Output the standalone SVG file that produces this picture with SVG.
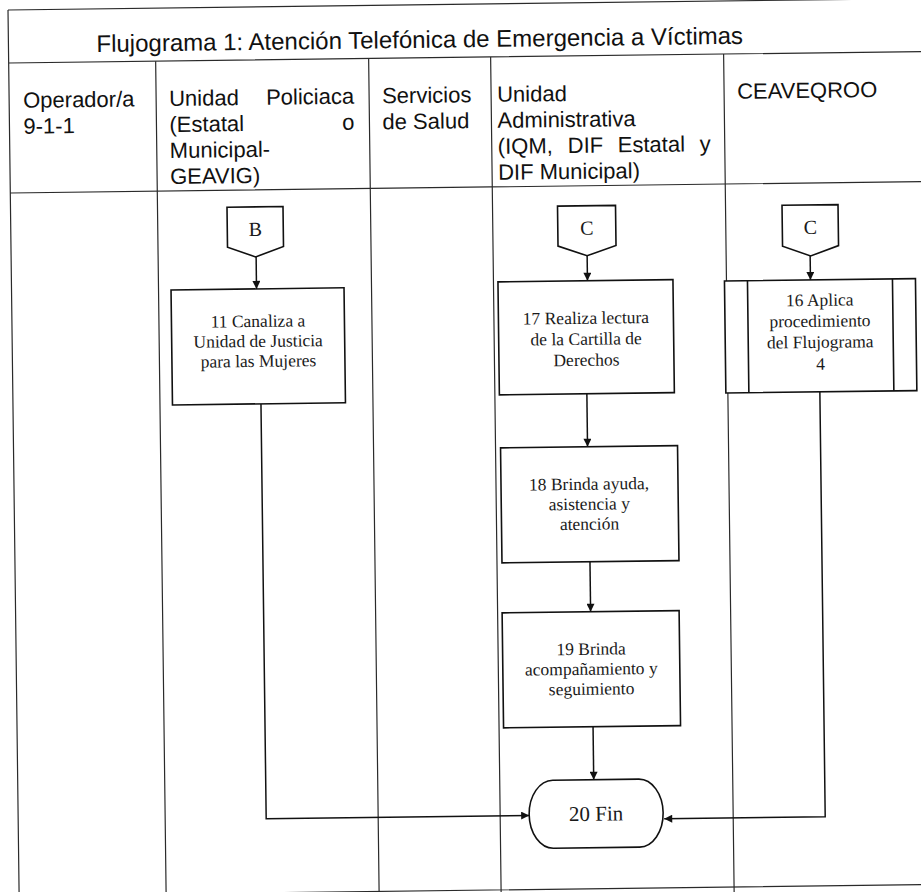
<svg xmlns="http://www.w3.org/2000/svg" width="921" height="892" viewBox="0 0 921 892">
  <style>
    .grid { fill: none; stroke: #2a2a2a; stroke-width: 1.2; }
    .box { fill: #fff; stroke: #111; stroke-width: 1.6; }
    .conn { fill: none; stroke: #111; stroke-width: 1.5; }
    .head { font-family: "Liberation Sans", Arial, sans-serif; font-size: 22px; fill: #111; }
    .title { font-family: "Liberation Sans", Arial, sans-serif; font-size: 24px; fill: #111; }
    .step { font-family: "Liberation Serif", "Times New Roman", serif; font-size: 17.5px; fill: #1a1a1a; text-anchor: middle; }
    .letter { font-family: "Liberation Serif", "Times New Roman", serif; font-size: 20px; fill: #1a1a1a; text-anchor: middle; }
  </style>
  <defs>
    <marker id="arrow" viewBox="0 0 10 10" refX="10" refY="5" markerWidth="9" markerHeight="8" markerUnits="userSpaceOnUse" orient="auto">
      <path d="M0,0 L10,5 L0,10 Z" fill="#111"/>
    </marker>
  </defs>
  <rect width="921" height="892" fill="#fff"/>
  <g transform="rotate(-0.72 8 10)">
    <!-- table frame and swimlane dividers -->
    <g id="table">
      <path class="grid" d="M8 10 H940 M8 10 V905 M8 63 H940 M8 193 H940 M8 896 H940"/>
      <path class="grid" d="M155 63 V905 M368 63 V905 M490 63 V905 M723 63 V905"/>
      <text class="title" x="96" y="53">Flujograma 1: Atención Telefónica de Emergencia a Víctimas</text>
    </g>
    <!-- lane headers -->
    <g id="lane-operador">
      <text class="head" x="22" y="108">Operador/a</text>
      <text class="head" x="22" y="134">9-1-1</text>
    </g>
    <g id="lane-policia">
      <text class="head" x="168" y="108">Unidad</text>
      <text class="head" x="353" y="108" text-anchor="end">Policiaca</text>
      <text class="head" x="168" y="134">(Estatal</text>
      <text class="head" x="353" y="134" text-anchor="end">o</text>
      <text class="head" x="168" y="160">Municipal-</text>
      <text class="head" x="168" y="186">GEAVIG)</text>
    </g>
    <g id="lane-salud">
      <text class="head" x="381" y="108">Servicios</text>
      <text class="head" x="381" y="134">de Salud</text>
    </g>
    <g id="lane-admin">
      <text class="head" x="496" y="108">Unidad</text>
      <text class="head" x="496" y="134">Administrativa</text>
      <text class="head" x="496" y="160">(IQM,</text>
      <text class="head" x="566" y="160">DIF</text>
      <text class="head" x="616" y="160">Estatal</text>
      <text class="head" x="709" y="160" text-anchor="end">y</text>
      <text class="head" x="496" y="186">DIF Municipal)</text>
    </g>
    <g id="lane-ceaveqroo">
      <text class="head" x="736" y="108">CEAVEQROO</text>
    </g>

    <!-- connectors -->
    <g id="connectors">
      <path class="conn" d="M253 260 V292" marker-end="url(#arrow)"/>
      <path class="conn" d="M584 263 V288" marker-end="url(#arrow)"/>
      <path class="conn" d="M807 266 V290" marker-end="url(#arrow)"/>
      <path class="conn" d="M582 401 V454" marker-end="url(#arrow)"/>
      <path class="conn" d="M583 569 V619" marker-end="url(#arrow)"/>
      <path class="conn" d="M584 734 V787" marker-end="url(#arrow)"/>
      <path class="conn" d="M256 407 V822 H519" marker-end="url(#arrow)"/>
      <path class="conn" d="M815 402 V827 H654" marker-end="url(#arrow)"/>
    </g>

    <!-- off-page connectors -->
    <g id="connector-B">
      <path class="box" d="M224.5 210 H280.5 V250 L252.5 260 L224.5 250 Z"/>
      <text class="letter" x="252.5" y="239">B</text>
    </g>
    <g id="connector-C-admin">
      <path class="box" d="M555 213 H613 V253 L584 263 L555 253 Z"/>
      <text class="letter" x="584" y="242">C</text>
    </g>
    <g id="connector-C-ceaveqroo">
      <path class="box" d="M779.5 215 H835.5 V256 L807.5 266 L779.5 256 Z"/>
      <text class="letter" x="807.5" y="244">C</text>
    </g>

    <!-- process steps -->
    <g id="step-11">
      <rect class="box" x="167.5" y="292" width="173" height="115"/>
      <text class="step" x="254" y="330">11 Canaliza a</text>
      <text class="step" x="254" y="350">Unidad de Justicia</text>
      <text class="step" x="254" y="370">para las Mujeres</text>
    </g>
    <g id="step-17">
      <rect class="box" x="494.5" y="288" width="175" height="113"/>
      <text class="step" x="582" y="331">17 Realiza lectura</text>
      <text class="step" x="582" y="352">de la Cartilla de</text>
      <text class="step" x="582" y="373">Derechos</text>
    </g>
    <g id="step-16">
      <rect class="box" x="721" y="290" width="191" height="112"/>
      <path class="box" d="M744 290 V402 M889 290 V402"/>
      <text class="step" x="816" y="316">16 Aplica</text>
      <text class="step" x="816" y="337">procedimiento</text>
      <text class="step" x="816" y="358">del Flujograma</text>
      <text class="step" x="816" y="380">4</text>
    </g>
    <g id="step-18">
      <rect class="box" x="495" y="454" width="177" height="115"/>
      <text class="step" x="583" y="497">18 Brinda ayuda,</text>
      <text class="step" x="583" y="517">asistencia y</text>
      <text class="step" x="583" y="537">atención</text>
    </g>
    <g id="step-19">
      <rect class="box" x="494.5" y="619" width="177" height="115"/>
      <text class="step" x="583" y="662">19 Brinda</text>
      <text class="step" x="583" y="682">acompañamiento y</text>
      <text class="step" x="583" y="702">seguimiento</text>
    </g>
    <g id="step-20-fin">
      <rect class="box" x="519" y="787" width="134" height="68" rx="24" ry="34"/>
      <text class="step" x="586" y="828" style="font-size:21px">20 Fin</text>
    </g>
  </g>
</svg>
